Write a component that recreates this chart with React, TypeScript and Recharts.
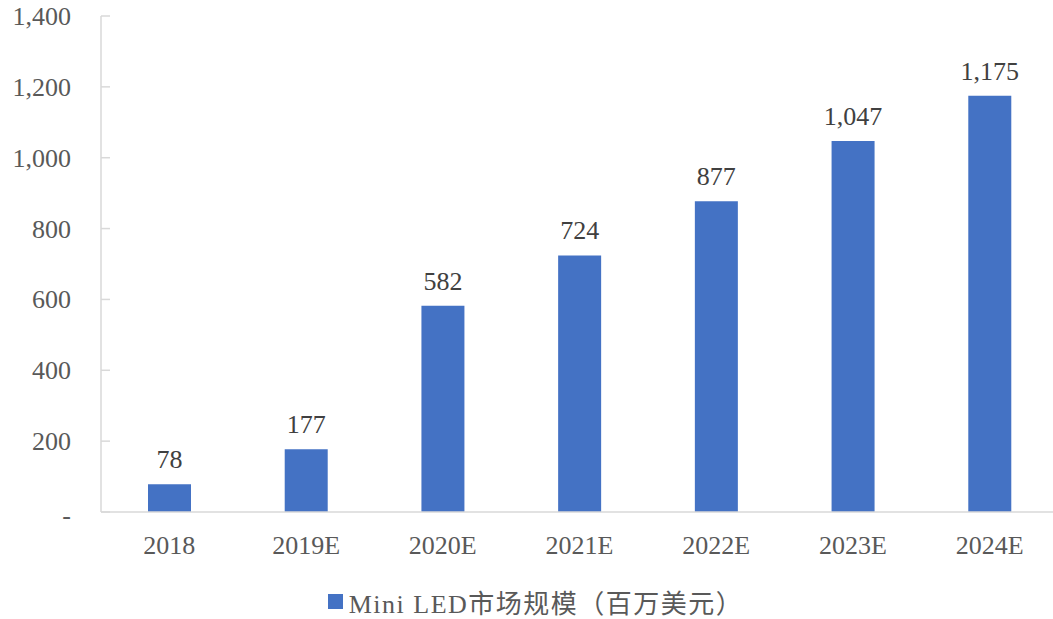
import React from 'react';
import { BarChart, Bar, XAxis, YAxis, Legend, LabelList } from 'recharts';

const years = ['2018', '2019E', '2020E', '2021E', '2022E', '2023E', '2024E'];
const marketSize = [78, 177, 582, 724, 877, 1047, 1175];
const yTicks = [0, 200, 400, 600, 800, 1000, 1200, 1400];

const seriesName = 'Mini LED市场规模（百万美元）';
const barColor = '#4472C4';
const axisColor = '#D9D9D9';
const textColor = '#595959';
const fontFamily = '"Liberation Serif", "Noto Sans CJK SC", serif';
const AXIS_X = 101;

const data = years.map((year, i) => ({ year, value: marketSize[i] }));

const fmt = (v: number) => (v === 0 ? '-' : v.toLocaleString('en-US'));

const YTick = (props: any) => {
  const { y, payload } = props;
  return (
    <g>
      <line x1={AXIS_X} x2={AXIS_X + 9} y1={y} y2={y} stroke={axisColor} strokeWidth={1.5} />
      <text x={71} y={y} dy={payload.value === 0 ? 12 : 9} textAnchor="end" fill={textColor} fontSize={26} fontFamily={fontFamily}>
        {fmt(payload.value)}
      </text>
    </g>
  );
};

const renderLegend = () => (
  <div style={{ display: 'flex', justifyContent: 'center', alignItems: 'center', paddingLeft: 18, paddingTop: 9, fontFamily, fontSize: 26, color: textColor, letterSpacing: 1.5 }}>
    <span style={{ display: 'inline-block', width: 15, height: 15, background: barColor, marginRight: 6 }} />
    <span>{seriesName}</span>
  </div>
);

const App: React.FC = () => {
  return (
    <div style={{ position: 'absolute', left: 0, top: 0, width: 1053, height: 619, overflow: 'hidden', background: '#fff' }}>
      <BarChart width={1058} height={619} data={data} margin={{ top: 16, right: 0, bottom: 0, left: 0 }}>
        <YAxis
          width={AXIS_X}
          domain={[0, 1400]}
          ticks={yTicks}
          interval={0}
          tick={<YTick />}
          tickLine={false}
          axisLine={{ stroke: axisColor, strokeWidth: 1.5 }}
        />
        <XAxis
          dataKey="year"
          height={62}
          tickLine={false}
          tickMargin={18}
          axisLine={{ stroke: axisColor, strokeWidth: 1.5 }}
          tick={{ fill: textColor, fontSize: 26, fontFamily }}
        />
        <Legend verticalAlign="bottom" height={45} content={renderLegend} wrapperStyle={{ left: 0, width: 1053 }} />
        <Bar dataKey="value" name={seriesName} fill={barColor} barSize={43} isAnimationActive={false}>
          <LabelList
            dataKey="value"
            position="top"
            offset={16}
            formatter={(v: any) => fmt(Number(v))}
            style={{ fill: '#404040', fontSize: 26, fontFamily }}
          />
        </Bar>
      </BarChart>
    </div>
  );
};

export default App;
